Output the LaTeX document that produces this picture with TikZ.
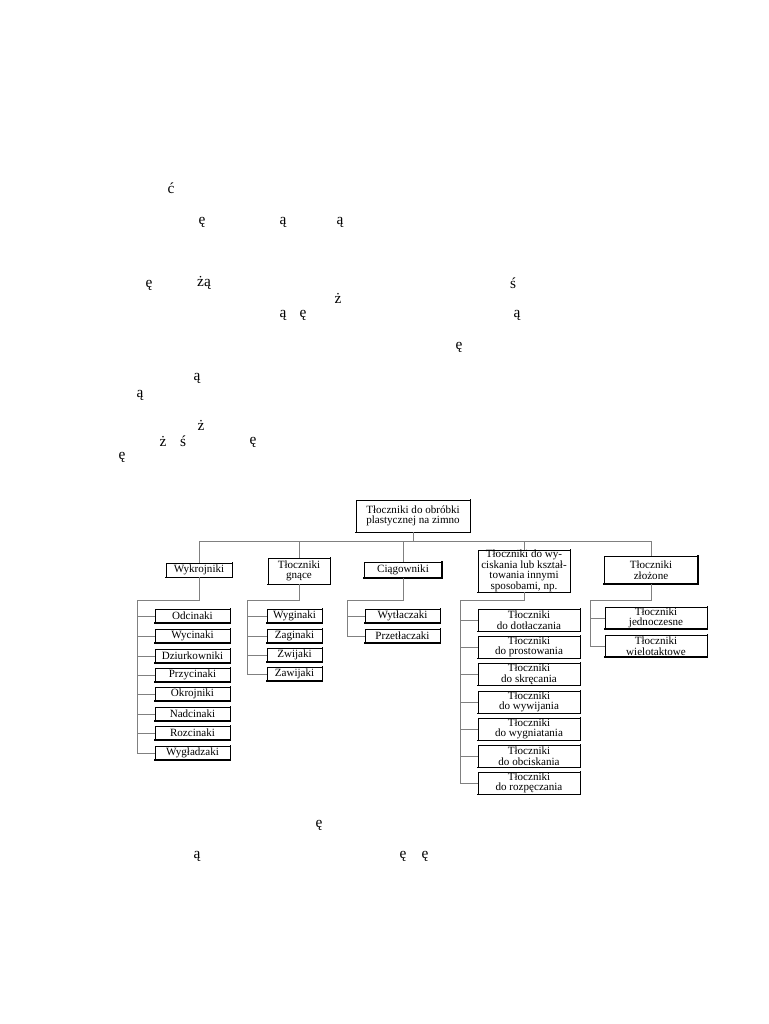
\documentclass[tikz,border=0pt]{standalone}
\usepackage{fontspec}
\setmainfont{Liberation Serif}
\begin{document}
\begin{tikzpicture}[x=0.75pt,y=-0.75pt,
  box/.style={draw=black,line width=0.5pt,inner sep=0pt,align=center,font=\fontsize{8.3}{7.9}\selectfont},
  sz/.style 2 args={minimum width=#1*0.75pt,minimum height=#2*0.75pt},
  conn/.style={draw=black!50,line width=0.5pt},
  shade/.style={line width=1.1pt,line cap=rect},
  stray/.style={inner sep=0pt,font=\fontsize{11.5}{12}\selectfont}]
\useasboundingbox[fill=white] (0,0) rectangle (768,1024);

% stray diacritics (text above and below)
\foreach \n/\x/\y/\t in {
  d1/171/188/ć, d2/202/222/ę, d3/283/222/ą, d4/340/222/ą,
  d5/149/285/ę, d6/204/283/żą, d7/513/283/ś, d8/338/298/ż,
  d9/283/315/ą, d10/303/315/ę, d11/517/315/ą, d12/459/347/ę,
  d13/197/378/ą, d14/140/395/ą, d15/201/425/ż, d16/163/441/ż,
  d17/183/441/ś, d18/253/442/ę, d19/122/457/ę,
  d20/319/825/ę, d21/197/856/ą, d22/403/856/ę, d23/425/856/ę}
  \node[stray] (\n) at (\x,\y) {\t};

% root
\node[box,sz={114}{32}] (root) at (413,516) {Tłoczniki do obróbki\\plastycznej na zimno};

% level 1
\node[box,sz={66}{14}] (A) at (199,570) {Wykrojniki};
\node[box,sz={62}{26}] (B) at (299,571) {Tłoczniki\\gnące};
\node[box,sz={77}{15}] (C) at (403,570) {Ciągowniki};
\node[box,sz={92}{42}] (D) at (524,571) {Tłoczniki do wy-\\ciskania lub kształ-\\towania innymi\\sposobami, np.};
\node[box,sz={93}{27}] (E) at (651,570) {Tłoczniki\\złożone};

% level 2
\foreach \n/\y/\t in {A1/616/Odcinaki, A2/636/Wycinaki, A3/656/Dziurkowniki,
  A4/675/Przycinaki, A5/694/Okrojniki, A6/714/Nadcinaki, A7/733/Rozcinaki, A8/753/Wygładzaki}
  \node[box,sz={75}{13}] (\n) at (192.5,\y) {\t};
\foreach \n/\y/\t in {B1/616/Wyginaki, B2/636/Zaginaki, B3/655/Zwijaki, B4/674/Zawijaki}
  \node[box,sz={55}{13}] (\n) at (294.5,\y) {\t};
\foreach \n/\y/\t in {C1/616/Wytłaczaki, C2/636/Przetłaczaki}
  \node[box,sz={75}{13}] (\n) at (402.5,\y) {\t};
\foreach \n/\y/\t in {D1/620/dotłaczania, D2/647/prostowania, D3/674/skręcania,
  D4/702/wywijania, D5/729/wygniatania, D6/756/obciskania, D7/783/rozpęczania}
  \node[box,sz={102}{22}] (\n) at (529,\y) {Tłoczniki\\do \t};
\foreach \n/\y/\t in {E1/618/jednoczesne, E2/646/wielotaktowe}
  \node[box,sz={102}{21}] (\n) at (656,\y) {Tłoczniki\\\t};

% shaded (thick) right and bottom edges
\foreach \n in {root,A,B,C,D,E,A1,A2,A3,A4,A5,A6,A7,A8,B1,B2,B3,B4,C1,C2,D1,D2,D3,D4,D5,D6,D7,E1,E2}
  \draw[shade] (\n.north east) -- (\n.south east) -- (\n.south west);

% connectors level 0 -> 1
\coordinate (bus) at (416,541);
\draw[conn] (root.south) -- (root.south |- bus);
\draw[conn] (A.north) |- (E.north |- bus) -- (E.north);
\foreach \n in {B,C,D} \draw[conn] (\n.north) -- (\n.north |- bus);

% connectors level 1 -> 2
\coordinate (Aj) at (137,600);
\coordinate (Bj) at (247,600);
\coordinate (Cj) at (347,600);
\coordinate (Dj) at (460,600);
\coordinate (Ej) at (590,600);
\draw[conn] (A.south) |- (Aj) |- (A8.west);
\foreach \n in {A1,A2,A3,A4,A5,A6,A7} \draw[conn] (Aj |- \n.west) -- (\n.west);
\draw[conn] (B.south) |- (Bj) |- (B4.west);
\foreach \n in {B1,B2,B3} \draw[conn] (Bj |- \n.west) -- (\n.west);
\draw[conn] (C.south) |- (Cj) |- (C2.west);
\draw[conn] (Cj |- C1.west) -- (C1.west);
\draw[conn] (D.south) |- (Dj) |- (D7.west);
\foreach \n in {D1,D2,D3,D4,D5,D6} \draw[conn] (Dj |- \n.west) -- (\n.west);
\draw[conn] (E.south) |- (Ej) |- (E2.west);
\draw[conn] (Ej |- E1.west) -- (E1.west);
\end{tikzpicture}
\end{document}
